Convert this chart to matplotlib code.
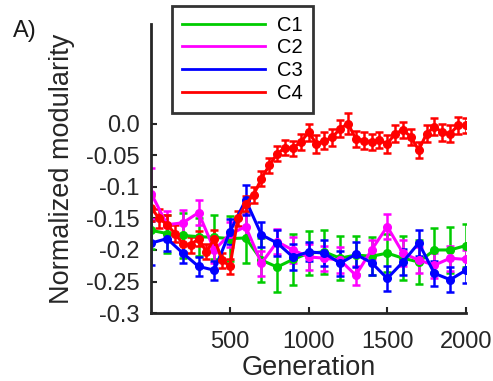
import numpy as np
import matplotlib.pyplot as plt

plt.rcParams['font.family'] = ['Liberation Sans', 'DejaVu Sans']

# generations
gen = np.arange(0, 2001, 100)
gen_c4 = np.arange(0, 2001, 50)

c1 = [-0.169, -0.174, -0.177, -0.179, -0.180, -0.182, -0.181, -0.216, -0.227, -0.215,
      -0.205, -0.203, -0.213, -0.208, -0.210, -0.205, -0.213, -0.219, -0.200, -0.200, -0.193]
c1_err = [0.03, 0.03, 0.035, 0.03, 0.035, 0.035, 0.04, 0.035, 0.04, 0.04, 0.035,
          0.035, 0.035, 0.03, 0.03, 0.03, 0.035, 0.035, 0.035, 0.037, 0.034]

c2 = [-0.111, -0.160, -0.157, -0.141, -0.200, -0.175, -0.163, -0.221, -0.187, -0.200,
      -0.211, -0.213, -0.216, -0.240, -0.200, -0.163, -0.205, -0.216, -0.224, -0.213, -0.215]
c2_err = [0.04, 0.022, 0.02, 0.02, 0.02, 0.02, 0.02, 0.02, 0.02, 0.02, 0.02,
          0.02, 0.02, 0.015, 0.015, 0.02, 0.02, 0.02, 0.02, 0.02, 0.015]

c3 = [-0.189, -0.182, -0.205, -0.226, -0.232, -0.171, -0.121, -0.176, -0.189, -0.211,
      -0.203, -0.205, -0.221, -0.207, -0.220, -0.245, -0.219, -0.189, -0.237, -0.247, -0.232]
c3_err = [0.035, 0.02, 0.015, 0.015, 0.015, 0.02, 0.024, 0.02, 0.02, 0.02, 0.015,
          0.02, 0.02, 0.02, 0.02, 0.02, 0.02, 0.02, 0.02, 0.02, 0.02]

c4 = [-0.134, -0.150, -0.160, -0.174, -0.190, -0.192, -0.182, -0.203, -0.182, -0.216,
      -0.226, -0.150, -0.127, -0.113, -0.087, -0.066, -0.048, -0.038, -0.039, -0.029,
      -0.014, -0.032, -0.027, -0.022, -0.008, 0.000, -0.024, -0.027, -0.029, -0.026,
      -0.032, -0.016, -0.010, -0.021, -0.042, -0.016, -0.005, -0.014, -0.016, -0.003, -0.003]
c4_err = [0.02, 0.015, 0.015, 0.013, 0.013, 0.012, 0.012, 0.012, 0.013, 0.012,
          0.012, 0.012, 0.012, 0.012, 0.012, 0.012, 0.012, 0.012, 0.012, 0.013,
          0.014, 0.014, 0.013, 0.013, 0.014, 0.016, 0.013, 0.013, 0.013, 0.013,
          0.014, 0.013, 0.013, 0.013, 0.013, 0.013, 0.013, 0.013, 0.013, 0.013, 0.012]

series = [('C1', gen, c1, c1_err, '#00cc00'),
          ('C2', gen, c2, c2_err, '#ff00ff'),
          ('C3', gen, c3, c3_err, '#0000ff'),
          ('C4', gen_c4, c4, c4_err, '#ff0000')]

fig = plt.figure(figsize=(4.93, 3.81), dpi=100)
ax = fig.add_axes([0.307, 0.178, 0.638, 0.759])

handles = []
for name, x, y, e, col in series:
    ax.errorbar(x, y, yerr=e, color=col, marker='o', markersize=5.5, linewidth=2.2,
                elinewidth=1.8, capsize=3, capthick=1.8)
    h, = ax.plot([], [], color=col, linewidth=2, label=name)
    handles.append(h)

ax.set_xlim(0, 2000)
ax.set_ylim(-0.3, 0.1575)
ax.set_xticks([500, 1000, 1500, 2000])
ax.set_yticks([0.0, -0.05, -0.1, -0.15, -0.2, -0.25, -0.3])
ax.set_yticklabels(['0.0', '-0.05', '-0.1', '-0.15', '-0.2', '-0.25', '-0.3'])
ax.tick_params(direction='in', length=4, width=1.5, labelsize=17, colors='#262626')
ax.tick_params(axis='y', pad=8.5)
ax.tick_params(axis='x', pad=13)
for s in ['top', 'right']:
    ax.spines[s].set_visible(False)
for s in ['left', 'bottom']:
    ax.spines[s].set_linewidth(2)
    ax.spines[s].set_color('#262626')

ax.set_xlabel('Generation', fontsize=19.5, color='#262626', labelpad=1)
ax.set_ylabel('Normalized modularity', fontsize=19.5, color='#262626', labelpad=8)

leg = fig.legend(handles=handles, loc='upper left', bbox_to_anchor=(0.349, 0.985),
                 fontsize=14.5, handlelength=4.1, handletextpad=0.6, labelspacing=0.18,
                 fancybox=False, framealpha=1, edgecolor='#333333', borderpad=0.5,
                 borderaxespad=0)
leg.get_frame().set_linewidth(2)

fig.text(0.026, 0.903, 'A)', fontsize=17, color='#1a1a1a', va='baseline')

fig.savefig('out.png', dpi=100)
